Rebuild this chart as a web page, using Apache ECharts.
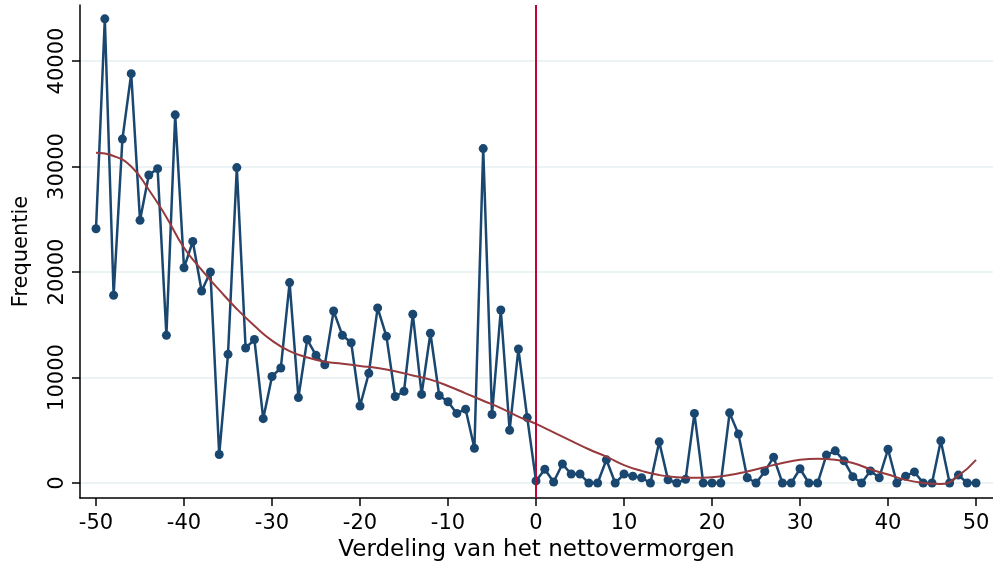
<!DOCTYPE html>
<html>
<head>
<meta charset="utf-8">
<script src="https://cdn.jsdelivr.net/npm/echarts@6/dist/echarts.min.js"></script>
<style>
html, body { margin: 0; padding: 0; background: #fff; }
#chart { width: 993px; height: 561px; }
</style>
</head>
<body>
<div id="chart"></div>
<script>
// waarden
var freqX = [-50, -49, -48, -47, -46, -45, -44, -43, -42, -41, -40, -39, -38, -37, -36, -35, -34, -33, -32, -31,
    -30, -29, -28, -27, -26, -25, -24, -23, -22, -21, -20, -19, -18, -17, -16, -15, -14, -13, -12, -11,
    -10, -9, -8, -7, -6, -5, -4, -3, -2, -1, 0, 1, 2, 3, 4, 5, 6, 7, 8, 9,
    10, 11, 12, 13, 14, 15, 16, 17, 18, 19, 20, 21, 22, 23, 24, 25, 26, 27, 28, 29,
    30, 31, 32, 33, 34, 35, 36, 37, 38, 39, 40, 41, 42, 43, 44, 45, 46, 47, 48, 49, 50];
var freqY = [24100, 44000, 17800, 32600, 38800, 24900, 29200, 29800, 14000, 34900, 20400, 22900, 18200, 20000, 2700, 12200, 29900, 12800, 13600, 6100,
    10100, 10900, 19000, 8100, 13600, 12100, 11200, 16300, 14000, 13300, 7300, 10400, 16600, 13900, 8200, 8700, 16000, 8400, 14200, 8300,
    7700, 6600, 7000, 3300, 31700, 6500, 16400, 5000, 12700, 6200, 200, 1300, 100, 1800, 850, 850, 0, 0, 2200, 0,
    850, 650, 500, 0, 3900, 300, 0, 350, 6600, 0, 0, 0, 6650, 4650, 500, 0, 1100, 2450, 0, 0,
    1350, 0, 0, 2650, 3050, 2100, 600, 0, 1150, 500, 3200, 0, 650, 1050, 0, 0, 4000, 0, 750, 0, 0];

// gladde curve (lokale schatting)
var fitX = [-50, -48, -46, -44, -42, -40, -38, -36, -34, -32, -30, -28, -26, -24, -22, -20, -18, -16, -14, -12,
    -10, -8, -6, -4, -2, 0, 2, 4, 6, 8, 10, 12, 14, 16, 18, 20, 22, 24, 26, 28,
    30, 32, 34, 36, 38, 40, 42, 44, 46, 48, 50];
var fitY = [31300, 31000, 30000, 27800, 25200, 22300, 20200, 18300, 16500, 14900, 13500, 12500, 11900, 11500, 11300, 11100, 10900, 10600, 10200, 9800,
    9200, 8500, 7800, 7100, 6300, 5600, 4800, 4000, 3200, 2500, 1700, 1150, 750, 550, 500, 550, 750, 1100, 1500, 1900,
    2200, 2300, 2200, 1900, 1300, 800, 300, 0, -100, 700, 2200];

var xTicks = [-50, -40, -30, -20, -10, 0, 10, 20, 30, 40, 50];
var yTicks = [0, 10000, 20000, 30000, 40000];

function pairs(xs, ys) {
    return xs.map(function(x, i) { return [x, ys[i]]; });
}

var chart = echarts.init(document.getElementById('chart'));
var font = 'DejaVu Sans';

var option = {
    animation: false,
    backgroundColor: '#fff',
    grid: { left: 80, right: 0, top: 5, bottom: 63, outerBoundsMode: 'none', containLabel: false },
    xAxis: {
        type: 'value',
        min: -51.82,
        max: 51.93,
        name: 'Verdeling van het nettovermorgen',
        nameLocation: 'middle',
        nameGap: 38,
        nameTextStyle: { color: '#000', fontSize: 23, fontFamily: font },
        axisLine: { onZero: false, lineStyle: { color: '#000', width: 1.5 } },
        axisTick: { customValues: xTicks, length: 8, lineStyle: { color: '#000', width: 1.5 } },
        axisLabel: { customValues: xTicks, margin: 15, color: '#000', fontSize: 21, fontFamily: font },
        splitLine: { show: false }
    },
    yAxis: {
        type: 'value',
        min: -1420,
        max: 45310,
        name: 'Frequentie',
        nameLocation: 'middle',
        nameGap: 48,
        nameTextStyle: { color: '#000', fontSize: 21, fontFamily: font },
        axisLine: { show: true, onZero: false, lineStyle: { color: '#000', width: 1.5 } },
        axisTick: { show: true, customValues: yTicks, length: 8, lineStyle: { color: '#000', width: 1.5 } },
        axisLabel: {
            customValues: yTicks, rotate: 90, margin: 12, color: '#000', fontSize: 21, fontFamily: font,
            formatter: function(v) { return String(v); }
        },
        splitLine: { show: true, lineStyle: { color: '#e6eff1', width: 1.5 } }
    },
    series: [
        {
            name: 'Frequentie',
            type: 'line',
            data: pairs(freqX, freqY),
            symbol: 'circle',
            symbolSize: 9,
            lineStyle: { color: '#1a476f', width: 2.5 },
            itemStyle: { color: '#1a476f' },
            z: 3
        },
        {
            name: 'Curve',
            type: 'line',
            data: pairs(fitX, fitY),
            smooth: 0.5,
            showSymbol: false,
            lineStyle: { color: '#973a3e', width: 2 },
            z: 4,
            // verticale lijn bij 0
            markLine: {
                silent: true,
                symbol: ['none', 'none'],
                label: { show: false },
                lineStyle: { color: '#c10534', width: 2, type: 'solid' },
                data: [{ xAxis: 0 }]
            }
        }
    ]
};

chart.setOption(option);
</script>
</body>
</html>
